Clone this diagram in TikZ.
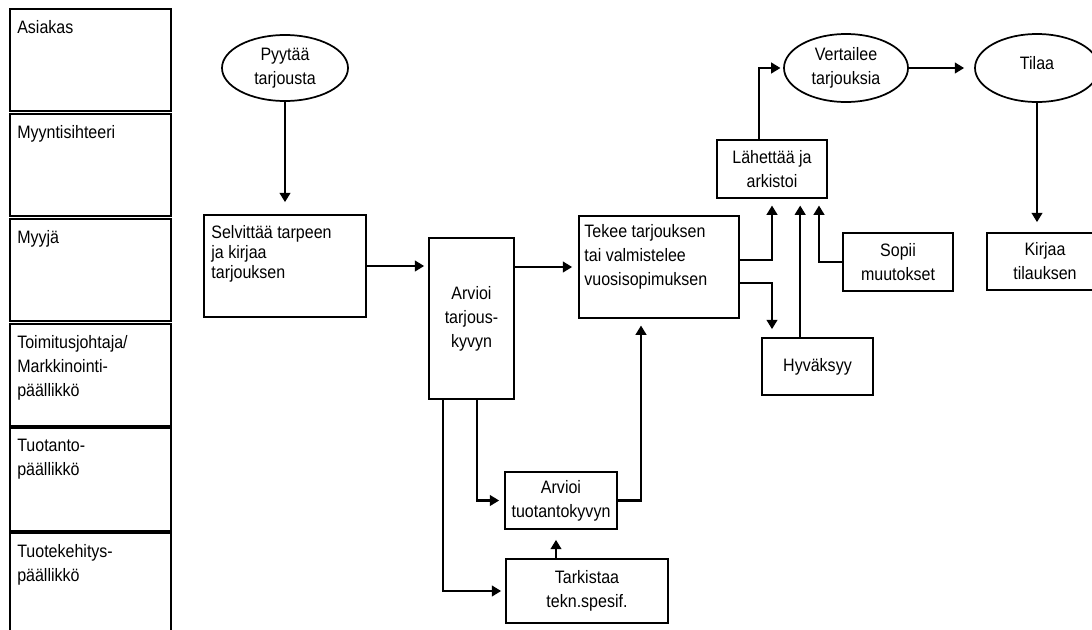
\documentclass[tikz,border=0pt]{standalone}
\usepackage{fontspec}
\setmainfont[FakeStretch=0.89]{Liberation Sans}
\usetikzlibrary{shapes.geometric,arrows.meta,calc}
\begin{document}
\begin{tikzpicture}[x=0.75pt,y=-0.75pt,
  every node/.style={font=\fontsize{13.5}{18}\selectfont},
  lane/.style={draw,line width=1.7pt,rectangle,inner sep=0pt,anchor=north west,minimum width=120.75pt},
  box/.style={draw,line width=1.3pt,rectangle,inner sep=2pt,align=center},
  oval/.style={draw,line width=1.3pt,ellipse,inner sep=0pt,align=center},
  arr/.style={line width=1.6pt,-{Triangle[length=7pt,width=8pt]}},
  lbl/.style={anchor=north west,align=left,inner sep=0pt,xshift=6pt,yshift=-9pt}]
\useasboundingbox (0,0) rectangle (1092,629);

% swimlanes
\node[lane,minimum height=76.5pt,label={[lbl]north west:Asiakas}] (l1) at (9,8) {};
\node[lane,minimum height=76.5pt,label={[lbl]north west:Myyntisihteeri}] (l2) at (9,113) {};
\node[lane,minimum height=76.5pt,label={[lbl]north west:Myyjä}] (l3) at (9,218) {};
\node[lane,minimum height=76.5pt,label={[lbl]north west:{Toimitusjohtaja/\\Markkinointi-\\päällikkö}}] (l4) at (9,323) {};
\node[lane,minimum height=77.25pt,label={[lbl]north west:{Tuotanto-\\päällikkö}}] (l5) at (9,427) {};
\node[lane,minimum height=90pt,label={[lbl]north west:{Tuotekehitys-\\päällikkö}}] (l6) at (9,532) {};

% ellipses
\node[oval,minimum width=94.5pt,minimum height=49.5pt] (pyy) at (285,68) {Pyytää\\tarjousta};
\node[oval,minimum width=93pt,minimum height=51pt] (ver) at (846,68) {Vertailee\\tarjouksia};
\node[oval,minimum width=93pt,minimum height=51pt] (til) at (1037,68) {\raisebox{7pt}{Tilaa}};

% boxes
\node[box,minimum width=121.5pt,minimum height=76.5pt,
  label={[anchor=north west,align=left,inner sep=0pt,xshift=6pt,yshift=-8pt,font=\fontsize{13.5}{15}\selectfont]north west:{Selvittää tarpeen\\ja kirjaa\\tarjouksen}}] (sel) at (285,266) {};
\node[box,minimum width=63.75pt,minimum height=120.75pt] (arv1) at (471.5,318.5) {Arvioi\\tarjous-\\kyvyn};
\node[box,minimum width=120pt,minimum height=76.5pt,
  label={[anchor=north west,align=left,inner sep=0pt,xshift=4.5pt,yshift=-7pt]north west:{Tekee tarjouksen\\tai valmistelee\\vuosisopimuksen}}] (tek) at (659,267) {};
\node[box,minimum width=82.5pt,minimum height=43.5pt] (lah) at (772,169) {Lähettää ja\\arkistoi};
\node[box,minimum width=82.5pt,minimum height=43.5pt] (sop) at (898,262) {Sopii\\muutokset};
\node[box,minimum width=87pt,minimum height=42.75pt] (kir) at (1045,261.5) {Kirjaa\\tilauksen};
\node[box,minimum width=83.25pt,minimum height=42.75pt] (hyv) at (817.5,366.5) {Hyväksyy};
\node[box,minimum width=84pt,minimum height=42.75pt] (arv2) at (561,500.5) {Arvioi\\tuotantokyvyn};
\node[box,minimum width=121.5pt,minimum height=48pt] (tar) at (587,591) {Tarkistaa\\tekn.spesif.};

% helper coordinates
\coordinate (lahl) at ([xshift=-9.75pt]lah.north);
\coordinate (lahr) at ([xshift=35.25pt]lah.south);
\coordinate (hyvl) at ([xshift=-13pt]hyv.north);
\coordinate (tekb) at ([xshift=-13.5pt]tek.south);
\coordinate (arv2b) at ([xshift=-3.75pt]arv2.south);
\coordinate (arv1a) at ([xshift=4pt]arv1.south);
\coordinate (arv1b) at ([xshift=-21.4pt]arv1.south);

% connectors
\draw[arr,shorten >=9pt] (pyy.south) -- (sel.north);
\draw[arr,shorten >=3pt] (sel.east) -- (sel.east -| arv1.west);
\draw[arr,shorten >=4.5pt] (tek.west -| arv1.east) -- (tek.west);
\draw[arr,shorten >=2pt] (lahl) |- (ver.west);
\draw[arr,shorten >=7.5pt] (ver.east) -- (til.west);
\draw[arr,shorten >=7.5pt] (til.south) -- (til.south |- kir.north);
\draw[arr,shorten >=5pt] ([yshift=5.25pt]tek.east) -| (lah.south);
\draw[arr,shorten >=5pt] (sop.west) -| (lahr);
\draw[arr,shorten >=5pt] (hyvl) -- (hyvl |- lah.south);
\draw[arr,shorten >=6pt] ([yshift=-12pt]tek.east) -| (lah.south |- hyv.north);
\draw[arr,shorten >=5pt] (arv2.east) -| (tekb);
\draw[arr,shorten >=7.5pt] (arv2b |- tar.north) -- (arv2b);
\draw[arr,shorten >=3.75pt] (arv1a) |- (arv2.west);
\draw[arr,shorten >=3pt] (arv1b) |- (tar.west);
\end{tikzpicture}
\end{document}
